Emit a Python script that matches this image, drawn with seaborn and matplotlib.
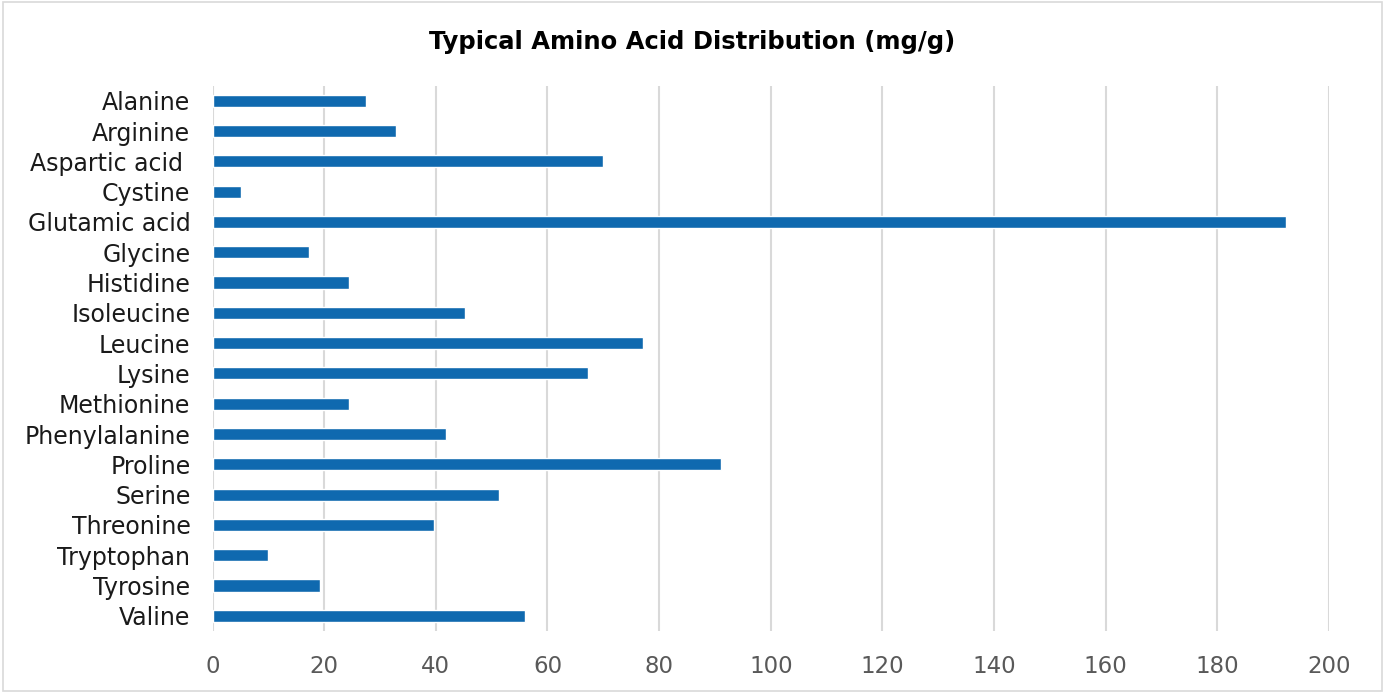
import pandas as pd
import matplotlib
matplotlib.use("Agg")
import matplotlib.pyplot as plt
import seaborn as sns

# Values (mg/g)
amino_acids = ['Alanine', 'Arginine', 'Aspartic acid ', 'Cystine', 'Glutamic acid',
               'Glycine', 'Histidine', 'Isoleucine', 'Leucine', 'Lysine',
               'Methionine', 'Phenylalanine', 'Proline', 'Serine', 'Threonine',
               'Tryptophan', 'Tyrosine', 'Valine']
amounts = [27.4, 32.9, 69.9, 5.0, 192.3,
           17.3, 24.5, 45.2, 77.1, 67.3,
           24.5, 41.8, 91.1, 51.4, 39.6,
           10.0, 19.2, 55.9]
x_ticks = [0, 20, 40, 60, 80, 100, 120, 140, 160, 180, 200]

df = pd.DataFrame({'acid': amino_acids, 'amount': amounts})

sns.set_style('white')
plt.rcParams['font.family'] = ['DejaVu Sans']

fig = plt.figure(figsize=(13.85, 6.93), dpi=100)
ax = fig.add_axes([0.1535, 0.0895, 0.806, 0.787])

sns.barplot(data=df, x='amount', y='acid', ax=ax, color='#0F69AF',
            width=0.4, saturation=1, orient='h')

ax.set_xlim(0, 200)
ax.set_xticks(x_ticks)
ax.set_xlabel('')
ax.set_ylabel('')
ax.grid(axis='x', color='#D9D9D9', linewidth=1.5)
ax.set_axisbelow(True)
for s in ax.spines.values():
    s.set_visible(False)
ax.tick_params(axis='x', length=0, labelsize=16.5, labelcolor='#595959', pad=17)
ax.tick_params(axis='y', length=0, labelsize=17, labelcolor='#1a1a1a', pad=16)

fig.text(0.5, 0.94, 'Typical Amino Acid Distribution (mg/g)', ha='center', va='center',
         fontsize=17.5, fontweight='bold', color='black')

# light border around the whole chart
fig.patches.append(plt.Rectangle((0.002, 0.003), 0.996, 0.994, transform=fig.transFigure,
                                 fill=False, edgecolor='#D9D9D9', linewidth=1.2))

fig.savefig('out.png', dpi=100)
